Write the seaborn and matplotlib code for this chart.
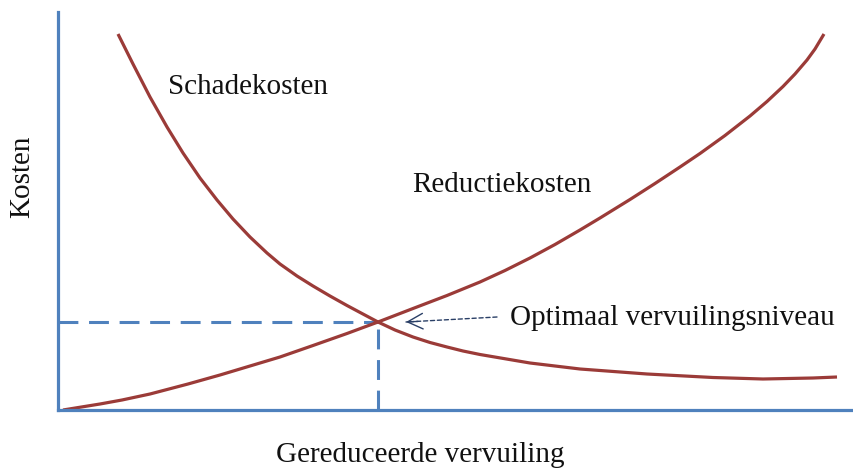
import matplotlib
matplotlib.use("Agg")
import matplotlib.pyplot as plt
import seaborn as sns
import pandas as pd

# --- data (arbitrary cost units) ---
reductie_x = [5, 42, 64, 92, 130, 162, 197, 222, 255, 289, 320, 355, 389, 422, 447, 472,
              497, 522, 542, 572, 597, 622, 642, 667, 692, 709, 725, 737, 749, 757, 766]
reductie_y = [0, 6, 10, 16, 26, 35, 45.5, 53, 64.5, 76.5, 88, 101.5, 114.5, 128, 139.5, 152,
              165.5, 180, 192, 210.5, 226.5, 243, 256.5, 274.5, 294, 308.5, 323.5, 336, 350, 361, 376]

schade_x = [60, 75, 92, 109, 125, 142, 159, 175, 192, 209, 222, 239, 255, 272, 289, 304,
            320, 337, 355, 372, 389, 405, 422, 472, 522, 589, 655, 705, 755, 779]
schade_y = [376, 346, 313, 283, 257, 232, 210, 191, 173, 157, 146, 134, 124, 114, 104.5, 96.5,
            88, 80, 73, 67.5, 63, 59, 55.5, 47, 41, 36, 32.5, 31, 32, 33]

optimum_x = 320
optimum_y = 88

labels = {
    "schade": "Schadekosten",
    "reductie": "Reductiekosten",
    "optimum": "Optimaal vervuilingsniveau",
    "xlabel": "Gereduceerde vervuiling",
    "ylabel": "Kosten",
}

df = pd.concat([
    pd.DataFrame({"x": reductie_x, "y": reductie_y, "curve": "Reductiekosten"}),
    pd.DataFrame({"x": schade_x, "y": schade_y, "curve": "Schadekosten"}),
])

sns.set_theme(style="white")
plt.rcParams["font.family"] = ["Liberation Serif", "DejaVu Serif"]

RED = "#9B3B38"
BLUE = "#4F81BD"
NAVY = "#2A3F66"

fig = plt.figure(figsize=(8.54, 4.70), dpi=100)
ax = fig.add_axes([58 / 854, 60 / 470, 796 / 854, 398 / 470])

sns.lineplot(data=df, x="x", y="y", units="curve", estimator=None, sort=False,
             color=RED, linewidth=2.3, ax=ax, legend=False)
for ln in ax.lines:
    ln.set_solid_joinstyle("round")
    ln.set_solid_capstyle("butt")

# dashed guides to the optimum
ax.plot([0, optimum_x], [optimum_y, optimum_y], color=BLUE, lw=2.2,
        linestyle=(0, (6.5, 3.5)), zorder=1)
ax.plot([optimum_x, optimum_x], [0, optimum_y], color=BLUE, lw=2.2,
        linestyle=(0, (6.5, 3.5)), zorder=1)

ax.set_xlim(0, 796)
ax.set_ylim(0, 398)
ax.set_xticks([])
ax.set_yticks([])
ax.set_xlabel("")
ax.set_ylabel("")
for s in ["top", "right"]:
    ax.spines[s].set_visible(False)
for s in ["left", "bottom"]:
    ax.spines[s].set_color(BLUE)
    ax.spines[s].set_linewidth(2.3)

fs = 21
ax.text(110, 316, labels["schade"], fontsize=fs, color="#111111", va="baseline", ha="left")
ax.text(354, 218, labels["reductie"], fontsize=fs, color="#111111", va="baseline", ha="left")
ax.text(452, 85, labels["optimum"], fontsize=fs, color="#111111", va="baseline", ha="left")

# arrow: dashed shaft + solid open head
tip = (optimum_x + 28, optimum_y)
ax.annotate("", xy=tip, xytext=(439, 93),
            arrowprops=dict(arrowstyle="-", color=NAVY, lw=1.0,
                            linestyle=(0, (3, 2)), shrinkA=0, shrinkB=0))
ax.annotate("", xy=tip, xytext=(tip[0] + 12, tip[1] + 0.6),
            arrowprops=dict(arrowstyle="->,head_length=0.55,head_width=0.28",
                            color=NAVY, lw=1.0, shrinkA=0, shrinkB=0,
                            mutation_scale=20))

fig.text(22 / 854, 1 - 177 / 470, labels["ylabel"], rotation=90, fontsize=fs,
         ha="center", va="center", color="#111111")
fig.text(420 / 854, 1 - 462 / 470, labels["xlabel"], fontsize=fs,
         ha="center", va="baseline", color="#111111")

fig.savefig("out.png", dpi=100)
